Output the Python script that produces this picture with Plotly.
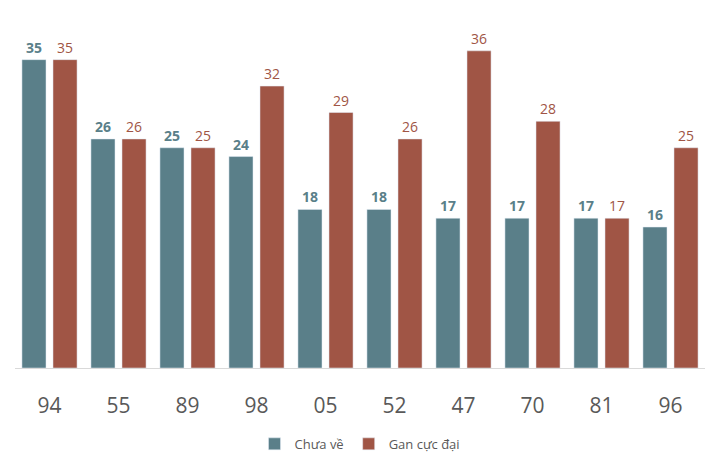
import plotly.graph_objects as go

categories = ["94", "55", "89", "98", "05", "52", "47", "70", "81", "96"]
chua_ve = [35, 26, 25, 24, 18, 18, 17, 17, 17, 16]
gan_cuc_dai = [35, 26, 25, 32, 29, 26, 36, 28, 17, 25]

teal = "#5a7f89"
red = "#a05545"

fig = go.Figure()
fig.add_trace(go.Bar(
    x=categories, y=chua_ve, name="Chưa về", marker_color=teal,
    text=chua_ve, textposition="outside", cliponaxis=False,
    textfont=dict(family="Open Sans", size=14, color=teal, weight="bold"),
))
fig.add_trace(go.Bar(
    x=categories, y=gan_cuc_dai, name="Gan cực đại", marker_color=red,
    text=gan_cuc_dai, textposition="outside", cliponaxis=False,
    textfont=dict(family="Open Sans", size=14, color=red),
))
fig.update_layout(
    width=718, height=464,
    margin=dict(l=15, r=13, t=20, b=96, autoexpand=False),
    barmode="group", bargap=0.10, bargroupgap=0.225,
    plot_bgcolor="white", paper_bgcolor="white",
    font=dict(family="Open Sans", color="#595959"),
    showlegend=True,
    legend=dict(orientation="h", x=0.5, xanchor="center", y=-0.175, yanchor="top",
                font=dict(size=13, color="#595959")),
    xaxis=dict(type="category", showline=True, linecolor="#d9d9d9", linewidth=1,
               automargin=False, ticklabelstandoff=19,
               tickfont=dict(size=21, color="#595959"), ticks="", ticklen=0),
    yaxis=dict(range=[0, 39.5], visible=False, showgrid=False),
)
fig.write_html("out.html")
